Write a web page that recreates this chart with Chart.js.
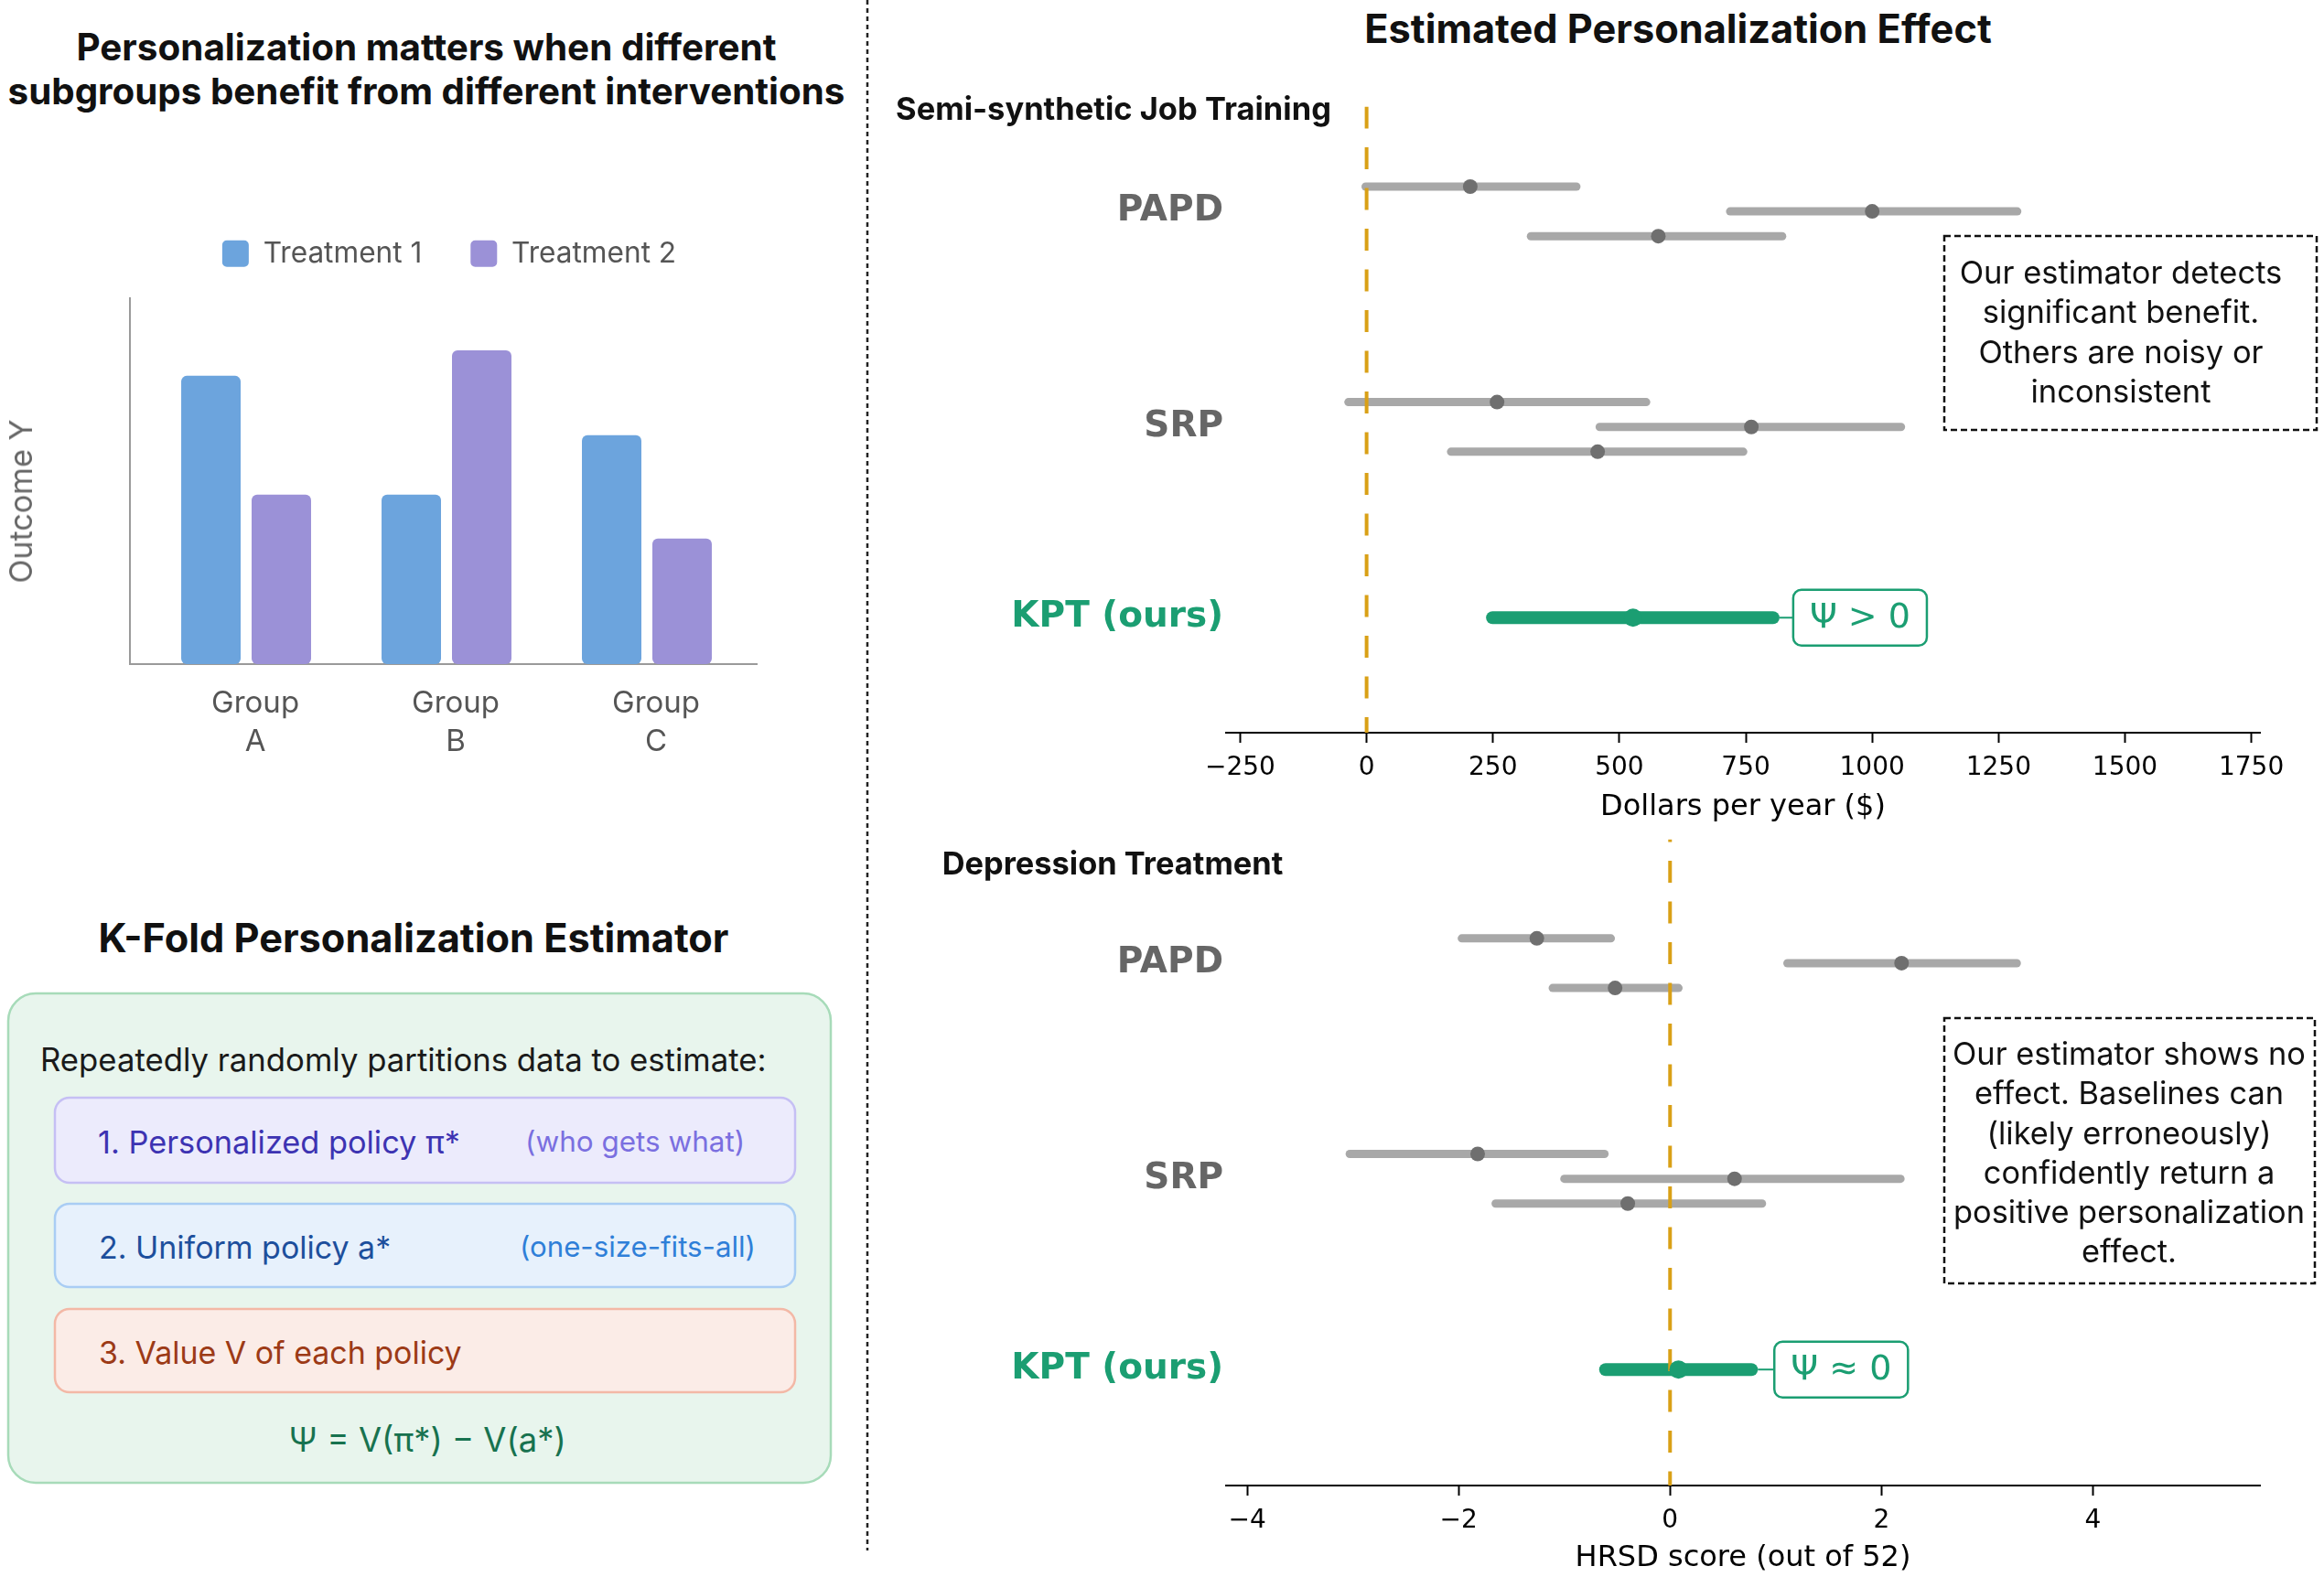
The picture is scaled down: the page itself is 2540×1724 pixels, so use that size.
<!DOCTYPE html>
<html><head><meta charset="utf-8">
<script src="https://cdn.jsdelivr.net/npm/chart.js@4.4.1/dist/chart.umd.min.js"></script>
<style>
html,body{margin:0;padding:0;background:#fff;}
#page{position:relative;width:2540px;height:1724px;overflow:hidden;background:#fff;font-family:Inter,"Noto Sans",sans-serif;color:#111;}
.t{position:absolute;white-space:nowrap;line-height:1;}
.c{transform:translate(-50%,-50%);}
.l{transform:translate(0,-50%);}
.r{transform:translate(-50%,-50%) rotate(-90deg);}
.b{font-weight:700;}
canvas{position:absolute;}
.ann{text-align:center;line-height:43.3px;font-size:31px;color:#111;}
</style></head><body><div id="page">
<svg width="2540" height="1724" style="position:absolute;left:0;top:0">
  <line x1="948" y1="0" x2="948" y2="1695" stroke="#222" stroke-width="2.5" stroke-dasharray="5 4"/>
  <rect x="9" y="1086" width="899" height="535" rx="30" fill="#e8f5ed" stroke="#a7dbb9" stroke-width="2.5"/>
  <rect x="60" y="1200" width="809" height="93" rx="16" fill="#ecebfc" stroke="#c5bff4" stroke-width="2.5"/>
  <rect x="60" y="1316" width="809" height="91" rx="16" fill="#e7f1fc" stroke="#a9cdf4" stroke-width="2.5"/>
  <rect x="60" y="1431" width="809" height="91" rx="16" fill="#fbece7" stroke="#f3b8a6" stroke-width="2.5"/>
  <rect x="2125" y="258" width="407" height="212" fill="none" stroke="#111" stroke-width="2.5" stroke-dasharray="7 4"/>
  <rect x="2125" y="1113" width="405" height="290" fill="none" stroke="#111" stroke-width="2.5" stroke-dasharray="7 4"/>
</svg>
<canvas id="bars" width="982" height="660" style="left:0;top:200px"></canvas>
<canvas id="job" width="1580" height="820" style="left:960px;top:90px"></canvas>
<canvas id="dep" width="1580" height="833" style="left:960px;top:891px"></canvas>

<div class="t c b" data-w="765" style="left:466px;top:52px;font-size:36px">Personalization matters when different</div>
<div class="t c b" data-w="915" style="left:466px;top:100px;font-size:36px">subgroups benefit from different interventions</div>
<div class="t r" data-w="179" style="left:23px;top:548px;font-size:35px;color:#666">Outcome Y</div>
<div class="t c b" data-w="689" style="left:452px;top:1026px;font-size:36px">K-Fold Personalization Estimator</div>
<div class="t l" data-w="794" style="left:44px;top:1158px;font-size:31px;color:#1a1a1a">Repeatedly randomly partitions data to estimate:</div>
<div class="t l" data-w="396" style="left:107px;top:1249px;font-size:33px;color:#3d33b2">1. Personalized policy π*</div>
<div class="t l" data-w="240" style="left:574px;top:1249px;font-size:30px;color:#7a6fe0">(who gets what)</div>
<div class="t l" data-w="319" style="left:108px;top:1364px;font-size:33px;color:#1d4f9c">2. Uniform policy a*</div>
<div class="t l" data-w="258" style="left:568px;top:1364px;font-size:30px;color:#2f7fd8">(one-size-fits-all)</div>
<div class="t l" data-w="397" style="left:108px;top:1479px;font-size:33px;color:#9c3a16">3. Value V of each policy</div>
<div class="t c" data-w="303" style="left:467px;top:1574px;font-size:34px;color:#17724f">Ψ = V(π*) − V(a*)</div>

<div class="t c b" data-w="686" style="left:1834px;top:32px;font-size:38px">Estimated Personalization Effect</div>
<div class="t c b" data-w="476" style="left:1217px;top:119px;font-size:31px">Semi-synthetic Job Training</div>
<div class="t c b" data-w="373" style="left:1216px;top:944px;font-size:31px">Depression Treatment</div>
<div class="t c ann" data-w="353" style="left:2318px;top:363px">Our estimator detects<br>significant benefit.<br>Others are noisy or<br>inconsistent</div>
<div class="t c ann" data-w="386" style="left:2327px;top:1260px">Our estimator shows no<br>effect. Baselines can<br>(likely erroneously)<br>confidently return a<br>positive personalization<br>effect.</div>
</div>
<script>
// ---------- data ----------
const groupLabels = ['A', 'B', 'C'];
const treatment1 = [8.5, 5.0, 6.75];
const treatment2 = [5.0, 9.25, 3.7];
const outcomeMax = 10.8;

const methodNames = ['PAPD', 'SRP', 'KPT (ours)'];
const methodPos = [2.13, 1, 0];
const subRowOffsets = [0.13, 0, -0.13];

// [low, estimate, high]
const jobTicks = [-250, 0, 250, 500, 750, 1000, 1250, 1500, 1750];
const jobPAPD = [[-2, 205, 415], [719, 1000, 1287], [325, 577, 822]];
const jobSRP = [[-36, 258, 553], [461, 761, 1057], [167, 457, 745]];
const jobKPT = [249, 527, 804];

const depTicks = [-4, -2, 0, 2, 4];
const depPAPD = [[-1.97, -1.26, -0.56], [1.11, 2.19, 3.28], [-1.11, -0.52, 0.08]];
const depSRP = [[-3.03, -1.82, -0.62], [-1.0, 0.61, 2.18], [-1.65, -0.40, 0.87]];
const depKPT = [-0.61, 0.08, 0.77];

// ---------- text fitting ----------
document.querySelectorAll('[data-w]').forEach(el => {
  const target = parseFloat(el.dataset.w);
  const fs = parseFloat(getComputedStyle(el).fontSize);
  const w = el.offsetWidth;
  if (w > 0) el.style.fontSize = (fs * target / w).toFixed(2) + 'px';
});

const GREEN = '#1b9e72', GOLD = '#d9a016', BLUE = '#6ca4dd', PURPLE = '#9b91d7';

// ---------- bar chart ----------
const legendGap = {
  id: 'legendGap',
  beforeUpdate(chart) {
    if (chart.legend && !chart.legend._gapPatched) {
      const fit = chart.legend.fit;
      chart.legend.fit = function () { fit.call(this); this.height += 22.5; };
      chart.legend._gapPatched = true;
    }
  }
};

const labelShift = 0.046;
new Chart(document.getElementById('bars'), {
  type: 'bar',
  data: {
    datasets: [
      { label: 'Treatment 1', data: treatment1.map((v, i) => ({ x: i, y: v })), backgroundColor: BLUE,
        borderRadius: 6, borderSkipped: false, categoryPercentage: 0.703, barPercentage: 0.844 },
      { label: 'Treatment 2', data: treatment2.map((v, i) => ({ x: i, y: v })), backgroundColor: PURPLE,
        borderRadius: 6, borderSkipped: false, categoryPercentage: 0.703, barPercentage: 0.844 }
    ]
  },
  options: {
    responsive: false, animation: false, events: [],
    layout: { padding: { top: 8.5, left: 0, right: 0, bottom: 0 } },
    plugins: {
      legend: { display: true, position: 'top',
        labels: { font: { family: 'Inter', size: 31.6 }, color: '#555', boxWidth: 29, boxHeight: 29,
          padding: 53, useBorderRadius: true, borderRadius: 5 } },
      tooltip: { enabled: false }
    },
    scales: {
      x: { type: 'linear', min: -0.58, max: 2.548, offset: false,
        afterBuildTicks: s => { s.ticks = groupLabels.map((g, i) => ({ value: i + labelShift })); },
        afterFit: s => { s.height = 134; },
        grid: { display: false, drawTicks: false, offset: false },
        border: { display: true, color: '#9a9a9a', width: 2 },
        ticks: { font: { family: 'Inter', size: 33, lineHeight: 1.27 }, color: '#555', padding: 22,
          autoSkip: false, maxRotation: 0, callback: v => ['Group', groupLabels[Math.round(v)]] } },
      y: { type: 'linear', min: 0, max: outcomeMax,
        afterFit: s => { s.width = 142; },
        grid: { display: false, drawTicks: false },
        border: { display: true, color: '#9a9a9a', width: 2 },
        ticks: { display: false } },
      yR: { type: 'linear', position: 'right', display: true,
        grid: { display: false, drawTicks: false }, border: { display: false }, ticks: { display: false },
        afterFit: s => { s.width = 155; } }
    }
  },
  plugins: [legendGap]
});

// ---------- forest plots ----------
const psiBox = {
  id: 'psiBox',
  afterDatasetsDraw(chart, args, o) {
    if (!o || !o.text) return;
    const ctx = chart.ctx, xs = chart.scales.x, ys = chart.scales.y;
    const px = xs.getPixelForValue(o.x), py = ys.getPixelForValue(o.y);
    ctx.save();
    ctx.font = '38px "DejaVu Sans"';
    const tw = ctx.measureText(o.text).width;
    const w = tw + 36, h = 61, left = px + o.gap, top = py - h / 2;
    ctx.strokeStyle = GREEN; ctx.lineWidth = 2;
    ctx.beginPath(); ctx.moveTo(px + 7, py); ctx.lineTo(left, py); ctx.stroke();
    ctx.beginPath(); ctx.roundRect(left, top, w, h, 9);
    ctx.fillStyle = '#fff'; ctx.fill(); ctx.lineWidth = 2.5; ctx.stroke();
    ctx.fillStyle = GREEN; ctx.textAlign = 'center'; ctx.textBaseline = 'middle';
    ctx.fillText(o.text, left + w / 2, py + 1);
    ctx.restore();
  }
};

function forest(id, cfg) {
  const datasets = [];
  const pts = [];
  datasets.push({ data: [{ x: 0, y: cfg.yMax }, { x: 0, y: cfg.yMin }], borderColor: GOLD, borderWidth: 4,
    borderDash: [24, 20.5], borderDashOffset: cfg.dashOffset, pointRadius: 0, order: 1 });
  [cfg.papd, cfg.srp].forEach((rows, m) => rows.forEach((r, k) => {
    const y = methodPos[m] + subRowOffsets[k];
    datasets.push({ data: [{ x: r[0], y }, { x: r[2], y }], borderColor: '#a8a8a8', borderWidth: 9,
      borderCapStyle: 'round', pointRadius: 0, order: 2 });
    pts.push({ x: r[1], y });
  }));
  datasets.push({ data: [{ x: cfg.kpt[0], y: methodPos[2] }, { x: cfg.kpt[2], y: methodPos[2] }], borderColor: GREEN,
    borderWidth: 14, borderCapStyle: 'round', pointRadius: 0, order: 2 });
  datasets.push({ data: pts, showLine: false, pointRadius: 8, pointBackgroundColor: '#6f6f6f',
    pointBorderWidth: 0, order: 0 });
  datasets.push({ data: [{ x: cfg.kpt[1], y: methodPos[2] }], showLine: false, pointRadius: 10,
    pointBackgroundColor: GREEN, pointBorderWidth: 0, order: 0 });

  new Chart(document.getElementById(id), {
    type: 'line',
    data: { datasets },
    options: {
      responsive: false, animation: false, events: [],
      layout: { padding: { top: 0, right: 70, left: 0, bottom: 0 } },
      plugins: { legend: { display: false }, tooltip: { enabled: false },
        psiBox: { text: cfg.psi, x: cfg.kpt[2], y: methodPos[2], gap: cfg.gap } },
      scales: {
        x: { type: 'linear', min: cfg.xMin, max: cfg.xMax,
          afterBuildTicks: s => { s.ticks = cfg.ticks.map(v => ({ value: v })); },
          afterFit: s => { s.height = cfg.xHeight; },
          grid: { display: true, drawOnChartArea: false, drawTicks: true, tickLength: 11, tickWidth: 2,
            tickColor: '#000', color: '#000' },
          border: { display: true, color: '#000', width: 2 },
          ticks: { font: { family: 'DejaVu Sans', size: 28 }, color: '#000', padding: 11, maxRotation: 0,
            autoSkip: false, callback: v => v < 0 ? '\u2212' + Math.abs(v) : String(v) },
          title: { display: true, text: cfg.xTitle, font: { family: 'DejaVu Sans', size: 32 }, color: '#000',
            padding: { top: 0, bottom: cfg.titlePad } } },
        y: { type: 'linear', min: cfg.yMin, max: cfg.yMax,
          afterBuildTicks: s => { s.ticks = methodPos.map(v => ({ value: v })); },
          afterFit: s => { s.width = 380; },
          grid: { display: false, drawTicks: false }, border: { display: false },
          ticks: { autoSkip: false, padding: 3, font: { family: 'DejaVu Sans', size: 39, weight: 'bold', lineHeight: 1.2 },
            color: c => (c.tick && c.tick.value === methodPos[2]) ? GREEN : '#666',
            callback: v => methodNames[methodPos.indexOf(v)] } }
      }
    },
    plugins: [psiBox]
  });
}

forest('job', { papd: jobPAPD, srp: jobSRP, kpt: jobKPT, ticks: jobTicks, xMin: -278, xMax: 1767,
  yMin: -0.603, yMax: 2.68, xHeight: 109, titlePad: 7.8, dashOffset: 0,
  xTitle: 'Dollars per year ($)', psi: 'Ψ > 0', gap: 22 });
forest('dep', { papd: depPAPD, srp: depSRP, kpt: depKPT, ticks: depTicks, xMin: -4.2, xMax: 5.58,
  yMin: -0.608, yMax: 2.78, xHeight: 100, titlePad: 0.8, dashOffset: 21,
  xTitle: 'HRSD score (out of 52)', psi: 'Ψ ≈ 0', gap: 25 });
</script>
</body></html>
